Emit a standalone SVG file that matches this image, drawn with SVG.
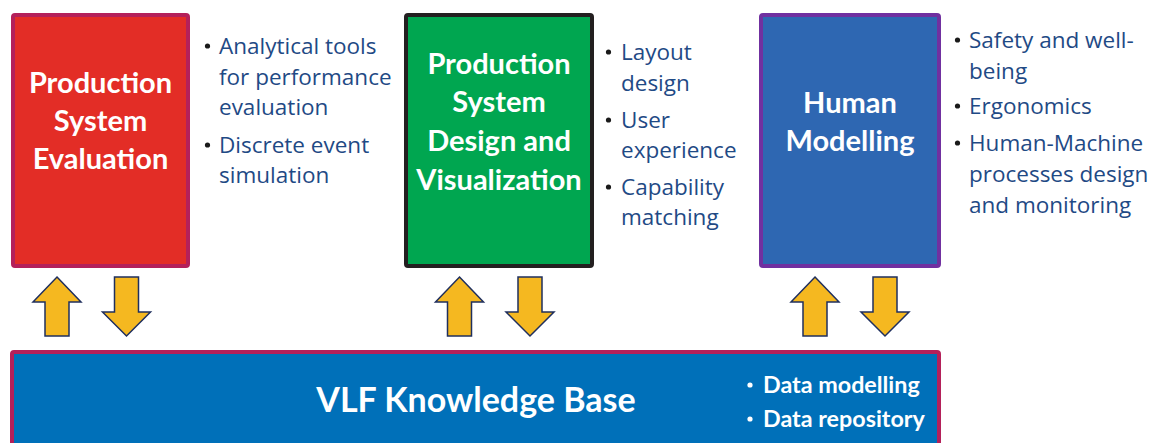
<svg xmlns="http://www.w3.org/2000/svg" width="1150" height="443" viewBox="0 0 1150 443">
<style>
.title{font-family:Lato,"Open Sans",sans-serif;font-weight:bold;fill:#fff;text-anchor:middle;font-size:29px}
.bul{font-family:"Open Sans","Noto Sans",sans-serif;fill:#1F4A85;font-size:22.5px}
.dot{fill:#1a1a1a}
.wb{font-family:Lato,"Open Sans",sans-serif;font-weight:bold;fill:#fff;font-size:23.3px}
.arrow{fill:#F5B820;stroke:#1F2F5E;stroke-width:1.5;stroke-linejoin:miter}
</style>
<defs>
<path id="up" class="arrow" d="M0,0 L24,25 L12,25 L12,59 L-12,59 L-12,25 L-24,25 Z"/>
<path id="down" class="arrow" d="M-12,0 L12,0 L12,35 L24,35 L0,59 L-24,35 L-12,35 Z"/>
</defs>
<rect width="1150" height="443" fill="#fff"/>

<g id="node-eval">
<rect x="13" y="15" width="175" height="251" rx="2" fill="#E32D26" stroke="#B4205A" stroke-width="4"/>
<text class="title" x="100.5" y="93">Production</text>
<text class="title" x="100.5" y="131">System</text>
<text class="title" x="100.5" y="169">Evaluation</text>
</g>
<g id="notes-eval">
<circle class="dot" cx="207.5" cy="46" r="2.6"/>
<text class="bul" x="219" y="54">Analytical tools</text>
<text class="bul" x="219" y="85">for performance</text>
<text class="bul" x="219" y="115">evaluation</text>
<circle class="dot" cx="207.5" cy="145" r="2.6"/>
<text class="bul" x="219" y="153">Discrete event</text>
<text class="bul" x="219" y="183">simulation</text>
</g>

<g id="node-design">
<rect x="406" y="15" width="186" height="251" rx="2" fill="#00A650" stroke="#231F20" stroke-width="4"/>
<text class="title" x="499" y="74">Production</text>
<text class="title" x="499" y="112">System</text>
<text class="title" x="499" y="151">Design and</text>
<text class="title" x="499" y="190">Visualization</text>
</g>
<g id="notes-design">
<circle class="dot" cx="608.5" cy="52" r="2.6"/>
<text class="bul" x="621" y="60">Layout</text>
<text class="bul" x="621" y="91">design</text>
<circle class="dot" cx="608.5" cy="120" r="2.6"/>
<text class="bul" x="621" y="128">User</text>
<text class="bul" x="621" y="158">experience</text>
<circle class="dot" cx="608.5" cy="187" r="2.6"/>
<text class="bul" x="621" y="195">Capability</text>
<text class="bul" x="621" y="225">matching</text>
</g>

<g id="node-human">
<rect x="761" y="15" width="178" height="251" rx="2" fill="#2E67B2" stroke="#7030A0" stroke-width="4"/>
<text class="title" x="850" y="113">Human</text>
<text class="title" x="850" y="151">Modelling</text>
</g>
<g id="notes-human">
<circle class="dot" cx="957.5" cy="40" r="2.6"/>
<text class="bul" x="969" y="48">Safety and well-</text>
<text class="bul" x="969" y="79">being</text>
<circle class="dot" cx="957.5" cy="106" r="2.6"/>
<text class="bul" x="969" y="114">Ergonomics</text>
<circle class="dot" cx="957.5" cy="143" r="2.6"/>
<text class="bul" x="969" y="151">Human-Machine</text>
<text class="bul" x="969" y="182">processes design</text>
<text class="bul" x="969" y="213">and monitoring</text>
</g>

<g id="node-kb">
<rect x="12" y="352" width="927" height="110" rx="2" fill="#0070B9" stroke="#B4205A" stroke-width="4"/>
<text class="title" x="476" y="412" style="font-size:34px">VLF Knowledge Base</text>
<circle cx="750" cy="385" r="2.6" fill="#fff"/>
<text class="wb" x="763" y="393">Data modelling</text>
<circle cx="750" cy="419" r="2.6" fill="#fff"/>
<text class="wb" x="763" y="427">Data repository</text>
</g>

<g id="connectors">
<use href="#up" x="57" y="277"/>
<use href="#down" x="126.5" y="277"/>
<use href="#up" x="459.5" y="277"/>
<use href="#down" x="530" y="277"/>
<use href="#up" x="815" y="277"/>
<use href="#down" x="885" y="277"/>
</g>
</svg>
